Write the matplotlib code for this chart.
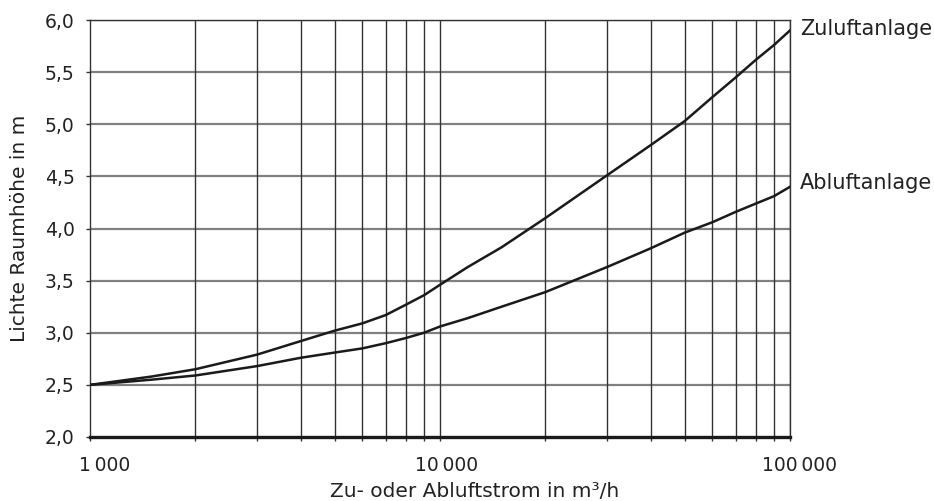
import matplotlib.pyplot as plt
from matplotlib.ticker import FixedLocator, NullFormatter
from matplotlib.transforms import ScaledTranslation

plt.rcParams['font.family'] = ['DejaVu Sans']

# Zu- oder Abluftstrom in m3/h
strom = [1000, 1500, 2000, 3000, 4000, 5000, 6000, 7000, 8000, 9000, 10000,
         12000, 15000, 20000, 30000, 40000, 50000, 60000, 70000, 80000, 90000, 100000]
zuluft = [2.50, 2.58, 2.65, 2.79, 2.92, 3.02, 3.09, 3.17, 3.27, 3.36, 3.46,
          3.63, 3.82, 4.10, 4.51, 4.80, 5.03, 5.26, 5.45, 5.62, 5.76, 5.90]
abluft = [2.50, 2.55, 2.59, 2.68, 2.76, 2.81, 2.85, 2.90, 2.95, 3.00, 3.06,
          3.14, 3.25, 3.39, 3.63, 3.81, 3.96, 4.06, 4.16, 4.24, 4.31, 4.40]

y_ticks = [2.0, 2.5, 3.0, 3.5, 4.0, 4.5, 5.0, 5.5, 6.0]
x_major = [1000, 10000, 100000]
x_labels = ['1\u2009000', '10\u2009000', '100\u2009000']
x_minor = [m * d for d in (1000, 10000) for m in range(2, 10)]

fig = plt.figure(figsize=(9.34, 5.01), dpi=100)
ax = fig.add_axes([90 / 934, 64 / 501, 700 / 934, 417 / 501])

ax.set_xscale('log')
ax.set_xlim(1000, 100000)
ax.set_ylim(2.0, 6.0)

# Gitter
for y in y_ticks[1:]:
    ax.axhline(y, color='#808080', lw=1.6, zorder=1)
for x in x_minor + x_major[1:]:
    ax.axvline(x, color='#333333', lw=1.0, zorder=1)

ax.plot(strom, zuluft, color='#1a1a1a', lw=1.8, zorder=3)
ax.plot(strom, abluft, color='#1a1a1a', lw=1.8, zorder=3)

ax.xaxis.set_major_locator(FixedLocator(x_major))
ax.set_xticklabels(x_labels)
ax.xaxis.set_minor_locator(FixedLocator(x_minor))
ax.xaxis.set_minor_formatter(NullFormatter())
ax.set_yticks(y_ticks)
ax.set_yticklabels([f'{v:.1f}'.replace('.', ',') for v in y_ticks])

ax.tick_params(axis='both', which='both', direction='out', length=3, width=1,
               color='#333333', labelsize=13.5, labelcolor='#222222')
ax.tick_params(axis='x', pad=11)
ax.tick_params(axis='y', pad=8)

# x-Beschriftungen leicht nach rechts versetzt wie im Original
for lab, dx in zip(ax.get_xticklabels(), [15, 7, 10]):
    lab.set_transform(lab.get_transform() + ScaledTranslation(dx / 100, 0, fig.dpi_scale_trans))

for s in ('top', 'right', 'left'):
    ax.spines[s].set_color('#333333')
    ax.spines[s].set_linewidth(1.0)
ax.spines['bottom'].set_linewidth(2.4)
ax.spines['bottom'].set_color('#1a1a1a')

fig.text(475 / 934, 4 / 501, 'Zu- oder Abluftstrom in m³/h', fontsize=14.5,
         color='#222222', ha='center', va='baseline')
fig.text(20 / 934, 1 - 228 / 501, 'Lichte Raumhöhe in m', fontsize=14.5,
         color='#222222', ha='center', va='center', rotation=90)

ax.text(1.014, 5.86, 'Zuluftanlage', transform=ax.get_yaxis_transform(),
        fontsize=15, color='#222222', va='baseline', ha='left', clip_on=False)
ax.text(1.014, 4.38, 'Abluftanlage', transform=ax.get_yaxis_transform(),
        fontsize=15, color='#222222', va='baseline', ha='left', clip_on=False)

fig.savefig('out.png', dpi=100)
